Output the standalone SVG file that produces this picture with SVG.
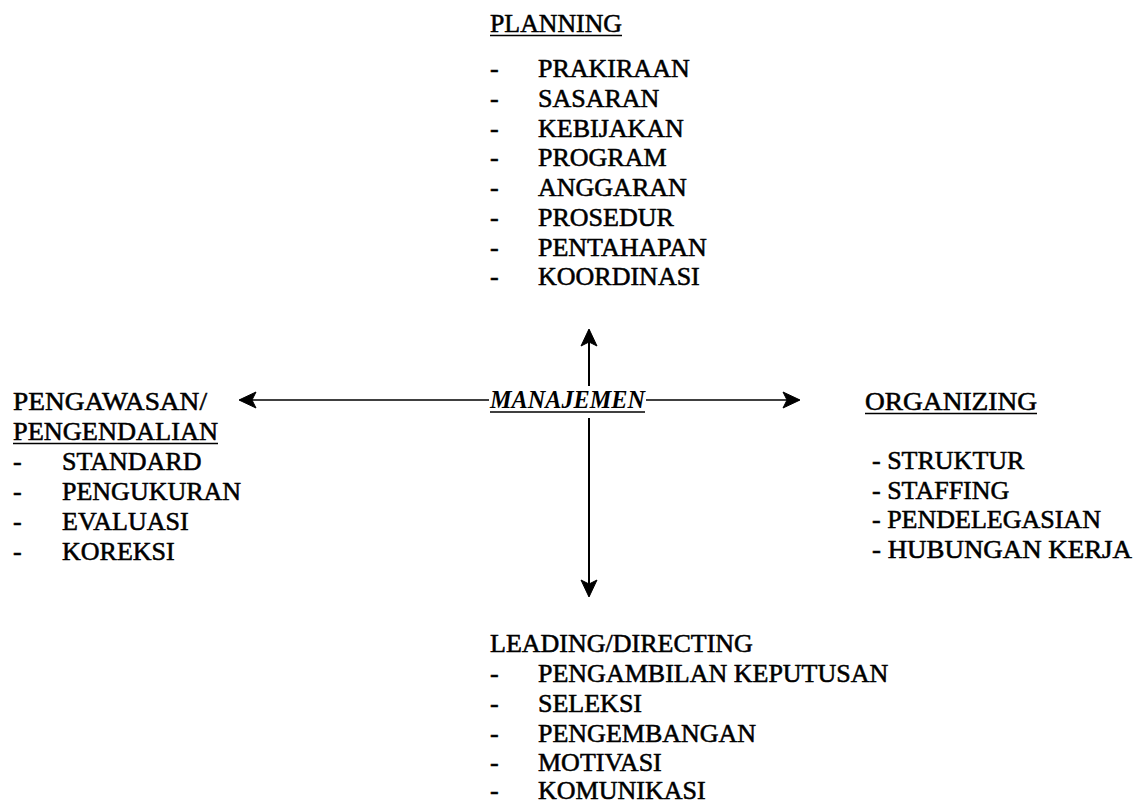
<svg xmlns="http://www.w3.org/2000/svg" width="1138" height="803" viewBox="0 0 1138 803">
  <style>
    .t { font-family: "Liberation Serif", "Times New Roman", serif; font-size: 26px; fill: #000; stroke: #000; stroke-width: 0.55; }
    .hub { font-family: "Liberation Serif", "Times New Roman", serif; font-size: 25px; font-style: italic; font-weight: bold; fill: #000; }
    .ul { stroke: #000; stroke-width: 1.4; }
    .conn { stroke: #000; fill: none; }
  </style>
  <defs>
    <!-- solid, broad arrowhead with a shallow notch; tip at the line end -->
    <marker id="head" viewBox="0 0 18 18" refX="17" refY="9" markerWidth="18" markerHeight="18" markerUnits="userSpaceOnUse" orient="auto">
      <path d="M18,9 L1,1 L5,9 L1,17 Z" fill="#000" stroke="#000" stroke-width="1" stroke-linejoin="round"/>
    </marker>
  </defs>

  <rect width="1138" height="803" fill="#fff"/>

  <!-- connectors from the centre term -->
  <g id="connectors">
    <line class="conn" x1="489" y1="400" x2="240" y2="400" stroke-width="1.6" marker-end="url(#head)"/>
    <line class="conn" x1="646" y1="400" x2="799" y2="400" stroke-width="1.6" marker-end="url(#head)"/>
    <line class="conn" x1="589" y1="386" x2="589" y2="330" stroke-width="2" marker-end="url(#head)"/>
    <line class="conn" x1="589" y1="418" x2="589" y2="596" stroke-width="2" marker-end="url(#head)"/>
  </g>

  <!-- centre -->
  <g id="node-manajemen">
    <text class="hub" x="490" y="408" textLength="155" lengthAdjust="spacingAndGlyphs">MANAJEMEN</text>
    <line class="ul" x1="490" y1="412" x2="645" y2="412"/>
  </g>

  <!-- top: planning -->
  <g id="node-planning">
    <text class="t" x="490" y="32" textLength="132" lengthAdjust="spacingAndGlyphs">PLANNING</text>
    <line class="ul" x1="490" y1="35.5" x2="622" y2="35.5"/>
    <text class="t"><tspan x="490" y="77">-</tspan><tspan x="538">PRAKIRAAN</tspan></text>
    <text class="t"><tspan x="490" y="107">-</tspan><tspan x="538">SASARAN</tspan></text>
    <text class="t"><tspan x="490" y="137">-</tspan><tspan x="538">KEBIJAKAN</tspan></text>
    <text class="t"><tspan x="490" y="166">-</tspan><tspan x="538">PROGRAM</tspan></text>
    <text class="t"><tspan x="490" y="196">-</tspan><tspan x="538">ANGGARAN</tspan></text>
    <text class="t"><tspan x="490" y="226">-</tspan><tspan x="538">PROSEDUR</tspan></text>
    <text class="t"><tspan x="490" y="256">-</tspan><tspan x="538">PENTAHAPAN</tspan></text>
    <text class="t"><tspan x="490" y="285">-</tspan><tspan x="538">KOORDINASI</tspan></text>
  </g>

  <!-- left: controlling -->
  <g id="node-pengawasan">
    <text class="t" x="13" y="410" textLength="194" lengthAdjust="spacingAndGlyphs">PENGAWASAN/</text>
    <text class="t" x="13" y="440" textLength="205" lengthAdjust="spacingAndGlyphs">PENGENDALIAN</text>
    <line class="ul" x1="13" y1="443.5" x2="218" y2="443.5"/>
    <text class="t"><tspan x="13" y="470">-</tspan><tspan x="62">STANDARD</tspan></text>
    <text class="t"><tspan x="13" y="500">-</tspan><tspan x="62">PENGUKURAN</tspan></text>
    <text class="t"><tspan x="13" y="530">-</tspan><tspan x="62">EVALUASI</tspan></text>
    <text class="t"><tspan x="13" y="560">-</tspan><tspan x="62">KOREKSI</tspan></text>
  </g>

  <!-- right: organizing -->
  <g id="node-organizing">
    <text class="t" x="865" y="410" textLength="172" lengthAdjust="spacingAndGlyphs">ORGANIZING</text>
    <line class="ul" x1="865" y1="413.5" x2="1037" y2="413.5"/>
    <text class="t" x="872" y="469">- STRUKTUR</text>
    <text class="t" x="872" y="499">- STAFFING</text>
    <text class="t" x="872" y="528">- PENDELEGASIAN</text>
    <text class="t" x="872" y="558" textLength="260" lengthAdjust="spacingAndGlyphs">- HUBUNGAN KERJA</text>
  </g>

  <!-- bottom: leading -->
  <g id="node-leading">
    <text class="t" x="490" y="652">LEADING/DIRECTING</text>
    <text class="t"><tspan x="490" y="682">-</tspan><tspan x="538">PENGAMBILAN KEPUTUSAN</tspan></text>
    <text class="t"><tspan x="490" y="712">-</tspan><tspan x="538">SELEKSI</tspan></text>
    <text class="t"><tspan x="490" y="742">-</tspan><tspan x="538">PENGEMBANGAN</tspan></text>
    <text class="t"><tspan x="490" y="771">-</tspan><tspan x="538">MOTIVASI</tspan></text>
    <text class="t"><tspan x="490" y="799">-</tspan><tspan x="538">KOMUNIKASI</tspan></text>
  </g>
</svg>
